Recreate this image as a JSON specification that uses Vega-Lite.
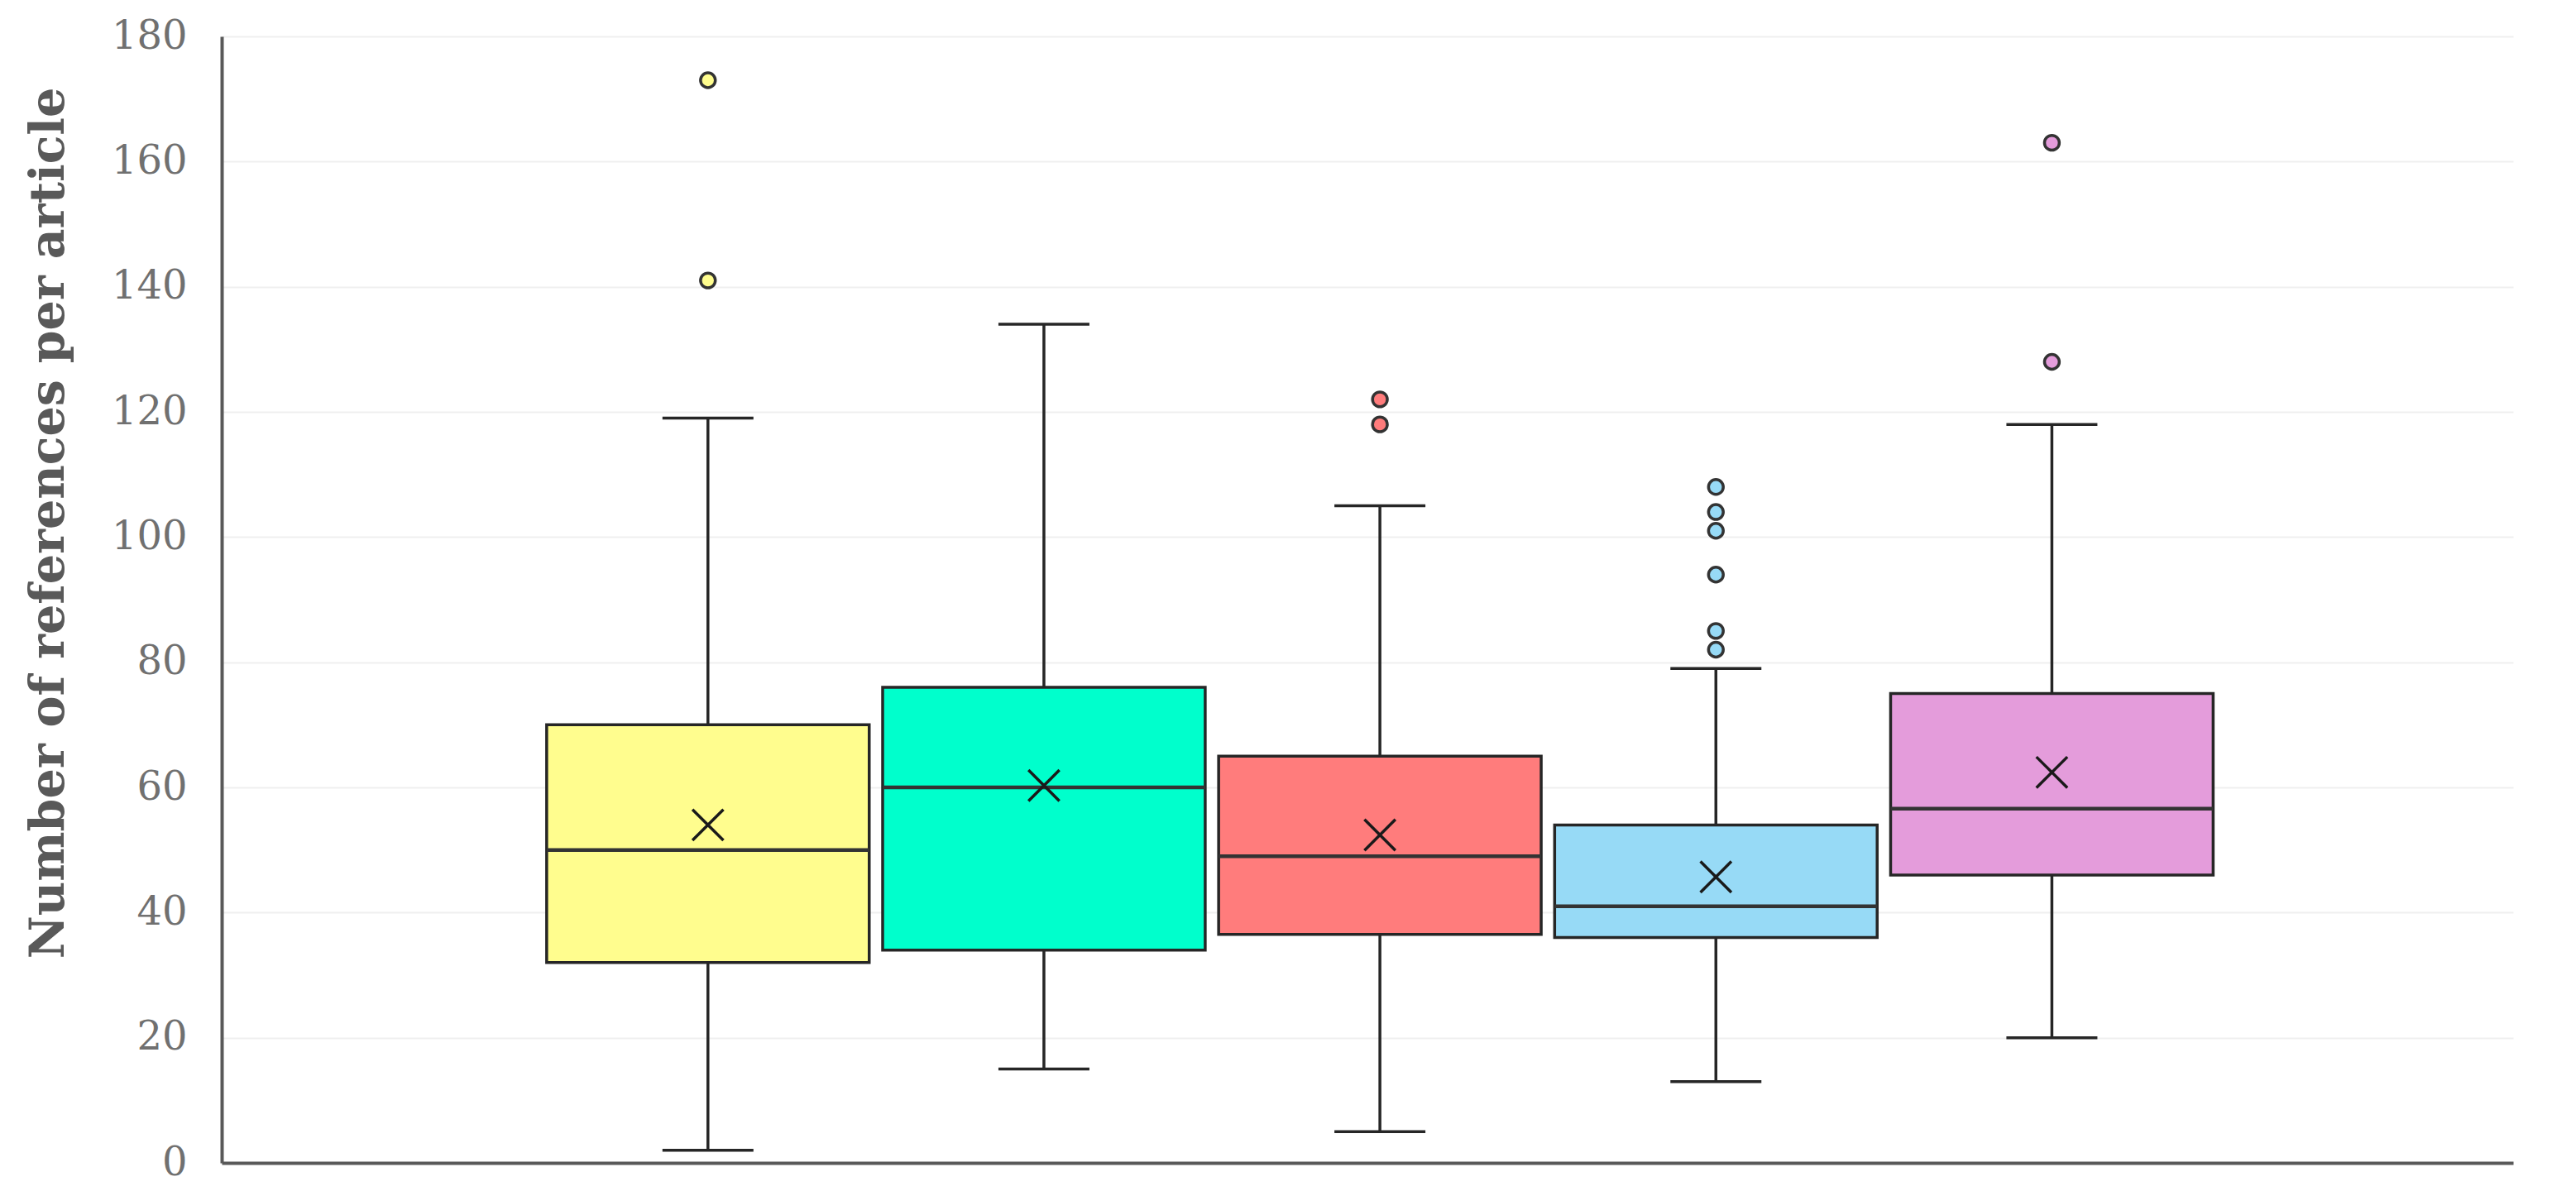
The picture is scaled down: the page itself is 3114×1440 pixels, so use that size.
{
  "$schema": "https://vega.github.io/schema/vega-lite/v6.json",
  "width": 2770,
  "height": 1362,
  "autosize": {"type": "none"},
  "padding": {"left": 268, "top": 44, "right": 76, "bottom": 34},
  "background": "white",
  "config": {"view": {"stroke": null}},
  "datasets": {
    "boxes": [
      {"cat": "A", "lower": 2, "q1": 32, "median": 50, "q3": 70, "upper": 119, "mean": 54},
      {"cat": "B", "lower": 15, "q1": 34, "median": 60, "q3": 76, "upper": 134, "mean": 60.3},
      {"cat": "C", "lower": 5, "q1": 36.5, "median": 49, "q3": 65, "upper": 105, "mean": 52.4},
      {"cat": "D", "lower": 13, "q1": 36, "median": 41, "q3": 54, "upper": 79, "mean": 45.7},
      {"cat": "E", "lower": 20, "q1": 46, "median": 56.6, "q3": 75, "upper": 118, "mean": 62.4}
    ],
    "outliers": [
      {"cat": "A", "value": 173},
      {"cat": "A", "value": 141},
      {"cat": "C", "value": 122},
      {"cat": "C", "value": 118},
      {"cat": "D", "value": 108},
      {"cat": "D", "value": 104},
      {"cat": "D", "value": 101},
      {"cat": "D", "value": 94},
      {"cat": "D", "value": 85},
      {"cat": "D", "value": 82},
      {"cat": "E", "value": 163},
      {"cat": "E", "value": 128}
    ]
  },
  "encoding": {
    "x": {
      "field": "cat",
      "type": "nominal",
      "scale": {"domain": ["A", "B", "C", "D", "E"], "paddingInner": 0.04, "paddingOuter": 0.93, "align": 0.52},
      "axis": {"labels": false, "ticks": false, "title": null, "domainColor": "#595959", "domainWidth": 4, "grid": false}
    }
  },
  "layer": [
    {
      "data": {"name": "boxes"},
      "mark": {"type": "rule", "color": "#262626", "strokeWidth": 3.5},
      "encoding": {
        "y": {
          "field": "lower",
          "type": "quantitative",
          "title": "Number of references per article",
          "scale": {"domain": [0, 180], "nice": false},
          "axis": {
            "values": [0, 20, 40, 60, 80, 100, 120, 140, 160, 180],
            "grid": true,
            "gridColor": "#EFEFEF",
            "gridWidth": 2,
            "ticks": false,
            "domainColor": "#595959",
            "domainWidth": 4,
            "labelFont": "DejaVu Serif",
            "labelFontSize": 48,
            "labelColor": "#707070",
            "labelPadding": 42,
            "titleFont": "DejaVu Serif",
            "titleFontWeight": "bold",
            "titleFontSize": 57,
            "titleColor": "#595959",
            "titlePadding": 46,
            "titleY": 588
          }
        },
        "y2": {"field": "upper"}
      }
    },
    {
      "data": {"name": "boxes"},
      "mark": {"type": "tick", "color": "#262626", "size": 110, "thickness": 3.5, "opacity": 1},
      "encoding": {"y": {"field": "lower", "type": "quantitative", "title": "Number of references per article"}}
    },
    {
      "data": {"name": "boxes"},
      "mark": {"type": "tick", "color": "#262626", "size": 110, "thickness": 3.5, "opacity": 1},
      "encoding": {"y": {"field": "upper", "type": "quantitative", "title": "Number of references per article"}}
    },
    {
      "data": {"name": "boxes"},
      "mark": {"type": "bar", "stroke": "#262626", "strokeWidth": 3.5, "opacity": 1},
      "encoding": {
        "y": {"field": "q3", "type": "quantitative", "title": "Number of references per article"},
        "y2": {"field": "q1"},
        "fill": {
          "field": "cat",
          "type": "nominal",
          "scale": {"domain": ["A", "B", "C", "D", "E"], "range": ["#FFFD8E", "#00FFCC", "#FF7C7C", "#97DAF6", "#E49CDB"]},
          "legend": null
        }
      }
    },
    {
      "data": {"name": "boxes"},
      "mark": {"type": "tick", "color": "#333333", "size": 390, "thickness": 4.5, "opacity": 1},
      "encoding": {"y": {"field": "median", "type": "quantitative", "title": "Number of references per article"}}
    },
    {
      "data": {"name": "outliers"},
      "mark": {"type": "point", "shape": "circle", "filled": true, "stroke": "#333333", "strokeWidth": 3.5, "size": 320, "opacity": 1},
      "encoding": {
        "y": {"field": "value", "type": "quantitative", "title": "Number of references per article"},
        "fill": {"field": "cat", "type": "nominal", "legend": null}
      }
    },
    {
      "data": {"name": "boxes"},
      "mark": {"type": "point", "shape": "M-1,-1L1,1M1,-1L-1,1", "filled": false, "stroke": "#1a1a1a", "strokeWidth": 3.5, "size": 1400, "opacity": 1},
      "encoding": {"y": {"field": "mean", "type": "quantitative", "title": "Number of references per article"}}
    }
  ]
}
